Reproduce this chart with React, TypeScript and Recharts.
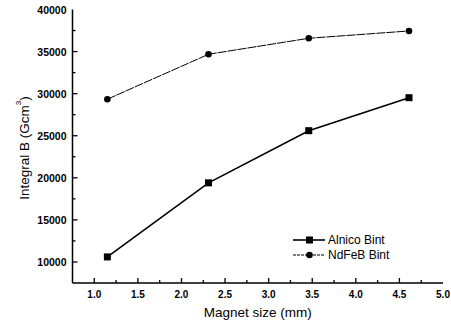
import { LineChart, Line, XAxis, YAxis } from "recharts";

const magnetSize = [1.15, 2.31, 3.46, 4.61];
const alnicoBint = [10600, 19400, 25600, 29520];
const ndfebBint = [29340, 34680, 36580, 37450];

const xTicks = [0.75, 1, 1.25, 1.5, 1.75, 2, 2.25, 2.5, 2.75, 3, 3.25, 3.5, 3.75, 4, 4.25, 4.5, 4.75, 5];
const yTicks = [7500, 10000, 12500, 15000, 17500, 20000, 22500, 25000, 27500, 30000, 32500, 35000, 37500, 40000];

const data = magnetSize.map((x, i) => ({
  x,
  alnico: alnicoBint[i],
  ndfeb: ndfebBint[i],
}));

const font = "'Liberation Sans', Arial, sans-serif";

const XTick = (props: any) => {
  const { x, y, payload } = props;
  const v = payload.value as number;
  const major = Math.abs(v * 2 - Math.round(v * 2)) < 1e-6;
  const inside = v > 0.75 && v < 5;
  return (
    <g>
      {inside && <line x1={x} x2={x} y1={y} y2={y - (major ? 5 : 3)} stroke="#000" strokeWidth={1.3} />}
      {major && (
        <text x={x} y={y + 15} textAnchor="middle" fontSize={10} fontWeight="bold" fontFamily={font} fill="#000">
          {v.toFixed(1)}
        </text>
      )}
    </g>
  );
};

const YTick = (props: any) => {
  const { x, y, payload } = props;
  const v = payload.value as number;
  const major = v % 5000 === 0;
  return (
    <g>
      {v > 7500 && v < 40000 && (
        <line x1={x} x2={x + (major ? 5 : 3)} y1={y} y2={y} stroke="#000" strokeWidth={1.3} />
      )}
      {major && (
        <text x={x - 6} y={y + 4} textAnchor="end" fontSize={10.5} fontWeight="bold" fontFamily={font} fill="#000">
          {v}
        </text>
      )}
    </g>
  );
};

// rotated axis title with superscript 3
const YTitle = () => (
  <text
    x={25}
    y={148}
    transform="rotate(-90 25 148)"
    textAnchor="middle"
    dominantBaseline="middle"
    fontSize={13.5}
    fontFamily={font}
    fill="#000"
  >
    Integral B (Gcm<tspan fontSize={8} dy={-6}>3</tspan>
    <tspan dy={6}>)</tspan>
  </text>
);

const Square = (props: any) => {
  const { cx, cy } = props;
  return <rect x={cx - 3.5} y={cy - 3.5} width={7} height={7} fill="#000" />;
};

const legendRows = [
  { label: "Alnico Bint", dash: undefined, width: 1.6, marker: "square" },
  { label: "NdFeB Bint", dash: "3 1", width: 1, marker: "circle" },
];

export default function App() {
  return (
    <div style={{ position: "relative", width: 451, height: 329, background: "#fff" }}>
      <style>{`body{margin:0}`}</style>
      <LineChart width={451} height={329} data={data} margin={{ top: 9.5, right: 8, bottom: 0, left: 0 }}>
        <XAxis
          dataKey="x"
          type="number"
          domain={[0.75, 5]}
          ticks={xTicks}
          interval={0}
          height={46}
          tickSize={0}
          tickMargin={0}
          tickLine={false}
          tick={<XTick />}
          axisLine={{ stroke: "#000", strokeWidth: 1.5 }}
          label={{ value: "Magnet size (mm)", position: "insideBottom", offset: 12, fontSize: 13.5, fontFamily: font, fill: "#000" }}
        />
        <XAxis xAxisId="top" orientation="top" type="number" domain={[0.75, 5]} height={0} tick={false} tickLine={false} axisLine={{ stroke: "#000", strokeWidth: 1.5 }} />
        <YAxis
          type="number"
          domain={[7500, 40000]}
          ticks={yTicks}
          interval={0}
          width={72.5}
          tickSize={0}
          tickMargin={0}
          tickLine={false}
          tick={<YTick />}
          axisLine={{ stroke: "#000", strokeWidth: 1.5 }}
          label={<YTitle />}
        />
        <YAxis yAxisId="right" orientation="right" type="number" domain={[7500, 40000]} width={0} tick={false} tickLine={false} axisLine={{ stroke: "#000", strokeWidth: 1.5 }} />
        <Line
          dataKey="alnico"
          stroke="#000"
          strokeWidth={1.6}
          dot={<Square />}
          activeDot={false}
          isAnimationActive={false}
        />
        <Line
          dataKey="ndfeb"
          stroke="#000"
          strokeWidth={1}
          strokeDasharray="9 1"
          dot={{ r: 3.3, fill: "#000", stroke: "#000", strokeWidth: 0 }}
          activeDot={false}
          isAnimationActive={false}
        />
      </LineChart>
      <div style={{ position: "absolute", left: 292, top: 232 }}>
        {legendRows.map((row) => (
          <div key={row.label} style={{ display: "flex", alignItems: "center", height: 15 }}>
            <svg width={34} height={10}>
              <line x1={1} x2={33} y1={5} y2={5} stroke="#000" strokeWidth={row.width} strokeDasharray={row.dash} />
              {row.marker === "square" ? (
                <rect x={14} y={1.5} width={7} height={7} fill="#000" />
              ) : (
                <circle cx={17.5} cy={5} r={3.3} fill="#000" />
              )}
            </svg>
            <span style={{ fontFamily: font, fontSize: 12, marginLeft: 2, color: "#000" }}>{row.label}</span>
          </div>
        ))}
      </div>
    </div>
  );
}
